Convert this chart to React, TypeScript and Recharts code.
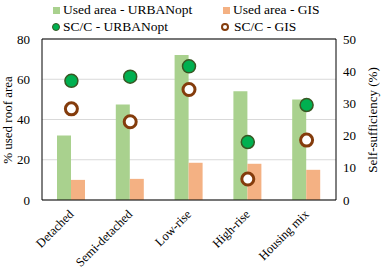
import React from 'react';
import { ComposedChart, Bar, Line, XAxis, YAxis, CartesianGrid, ReferenceLine } from 'recharts';

const categories = ['Detached', 'Semi-detached', 'Low-rise', 'High-rise', 'Housing mix'];
const usedAreaUrbanopt = [32, 47.5, 72, 54, 50];
const usedAreaGis = [10, 10.5, 18.5, 18, 15];
const sccUrbanopt = [37, 38.3, 41.5, 18, 29.5];
const sccGis = [28.3, 24.3, 34.3, 6.5, 18.6];
const leftTicks = [0, 10, 20, 30, 40, 50, 60, 70, 80];
const rightTicks = [0, 10, 20, 30, 40, 50];

const data = categories.map((name, i) => ({
  name,
  urbanArea: usedAreaUrbanopt[i],
  gisArea: usedAreaGis[i],
  urbanScc: sccUrbanopt[i],
  gisScc: sccGis[i],
}));

const FONT = 'Liberation Serif, DejaVu Serif, serif';

const GreenDot = (props: any) => {
  const { cx, cy } = props;
  if (cx == null || cy == null) return null;
  return <circle cx={cx} cy={cy} r={6.5} fill="#00B050" stroke="#385723" strokeWidth={1.5} />;
};

const BrownRing = (props: any) => {
  const { cx, cy } = props;
  if (cx == null || cy == null) return null;
  return <circle cx={cx} cy={cy} r={6} fill="#fff" stroke="#843C0C" strokeWidth={3} />;
};

// rotated category labels, end of text just below the category centre
const XTick = (props: any) => {
  const { x, y, payload } = props;
  const ax = x + 3;
  const ay = y + 7;
  return (
    <text
      x={ax}
      y={ay}
      textAnchor="end"
      style={{ fontSize: 12.5, fontFamily: FONT }}
      fill="#000"
      transform={`rotate(-45, ${ax}, ${ay})`}
    >
      {payload.value}
    </text>
  );
};

const legendText: React.CSSProperties = {
  position: 'absolute',
  fontFamily: FONT,
  fontSize: 13.5,
  lineHeight: '16px',
  color: '#000',
  whiteSpace: 'nowrap',
};

const tickStyle = { fill: '#000', fontSize: 13, style: { fontFamily: FONT } };

export default function App() {
  return (
    <div style={{ position: 'absolute', left: 0, top: 0, width: 384, height: 272, background: '#fff', fontFamily: FONT }}>
      <ComposedChart
        width={384}
        height={272}
        data={data}
        margin={{ top: 39, right: 0, bottom: 0, left: 0 }}
        barGap={0}
        style={{ fontFamily: FONT }}
      >
        <CartesianGrid yAxisId="left" vertical={false} stroke="#D9D9D9" strokeWidth={1} />
        <XAxis
          dataKey="name"
          height={72}
          axisLine={{ stroke: '#000', strokeWidth: 1 }}
          tickLine={false}
          interval={0}
          tick={<XTick />}
        />
        <YAxis
          yAxisId="left"
          width={42}
          domain={[0, 80]}
          ticks={leftTicks}
          axisLine={{ stroke: '#000', strokeWidth: 1 }}
          tickLine={false}
          tickSize={0}
          tickMargin={12}
          tick={tickStyle}
        />
        <YAxis
          yAxisId="right"
          orientation="right"
          width={48}
          domain={[0, 50]}
          ticks={rightTicks}
          axisLine={{ stroke: '#000', strokeWidth: 1 }}
          tickLine={false}
          tickSize={0}
          tickMargin={7}
          tick={tickStyle}
        />
        <ReferenceLine yAxisId="left" y={80} stroke="#000" strokeWidth={1} />
        <Bar yAxisId="left" dataKey="urbanArea" fill="#A9D18E" barSize={14} isAnimationActive={false} />
        <Bar yAxisId="left" dataKey="gisArea" fill="#F4B183" barSize={14} isAnimationActive={false} />
        <Line
          yAxisId="right"
          dataKey="urbanScc"
          stroke="none"
          dot={<GreenDot />}
          activeDot={false}
          isAnimationActive={false}
        />
        <Line
          yAxisId="right"
          dataKey="gisScc"
          stroke="none"
          dot={<BrownRing />}
          activeDot={false}
          isAnimationActive={false}
        />
      </ComposedChart>

      {/* legend */}
      <div style={{ position: 'absolute', left: 53, top: 7, width: 7, height: 7, background: '#A9D18E' }} />
      <div style={{ ...legendText, left: 63, top: 2 }}>Used area - URBANopt</div>
      <div style={{ position: 'absolute', left: 223, top: 7, width: 7, height: 7, background: '#F4B183' }} />
      <div style={{ ...legendText, left: 233, top: 2 }}>Used area - GIS</div>
      <div
        style={{
          position: 'absolute', left: 52, top: 23, width: 6, height: 6, borderRadius: '50%',
          background: '#00B050', border: '1px solid #385723',
        }}
      />
      <div style={{ ...legendText, left: 63, top: 19 }}>SC/C - URBANopt</div>
      <div
        style={{
          position: 'absolute', left: 221, top: 23, width: 4, height: 4, borderRadius: '50%',
          background: '#fff', border: '2px solid #843C0C',
        }}
      />
      <div style={{ ...legendText, left: 234, top: 19 }}>SC/C - GIS</div>

      {/* axis titles */}
      <div
        style={{
          ...legendText, fontSize: 13, left: 8, top: 120, transform: 'translate(-50%, -50%) rotate(-90deg)',
        }}
      >
        % used roof area
      </div>
      <div
        style={{
          ...legendText, fontSize: 13, left: 373, top: 120, transform: 'translate(-50%, -50%) rotate(-90deg)',
        }}
      >
        Self-sufficiency (%)
      </div>
    </div>
  );
}
